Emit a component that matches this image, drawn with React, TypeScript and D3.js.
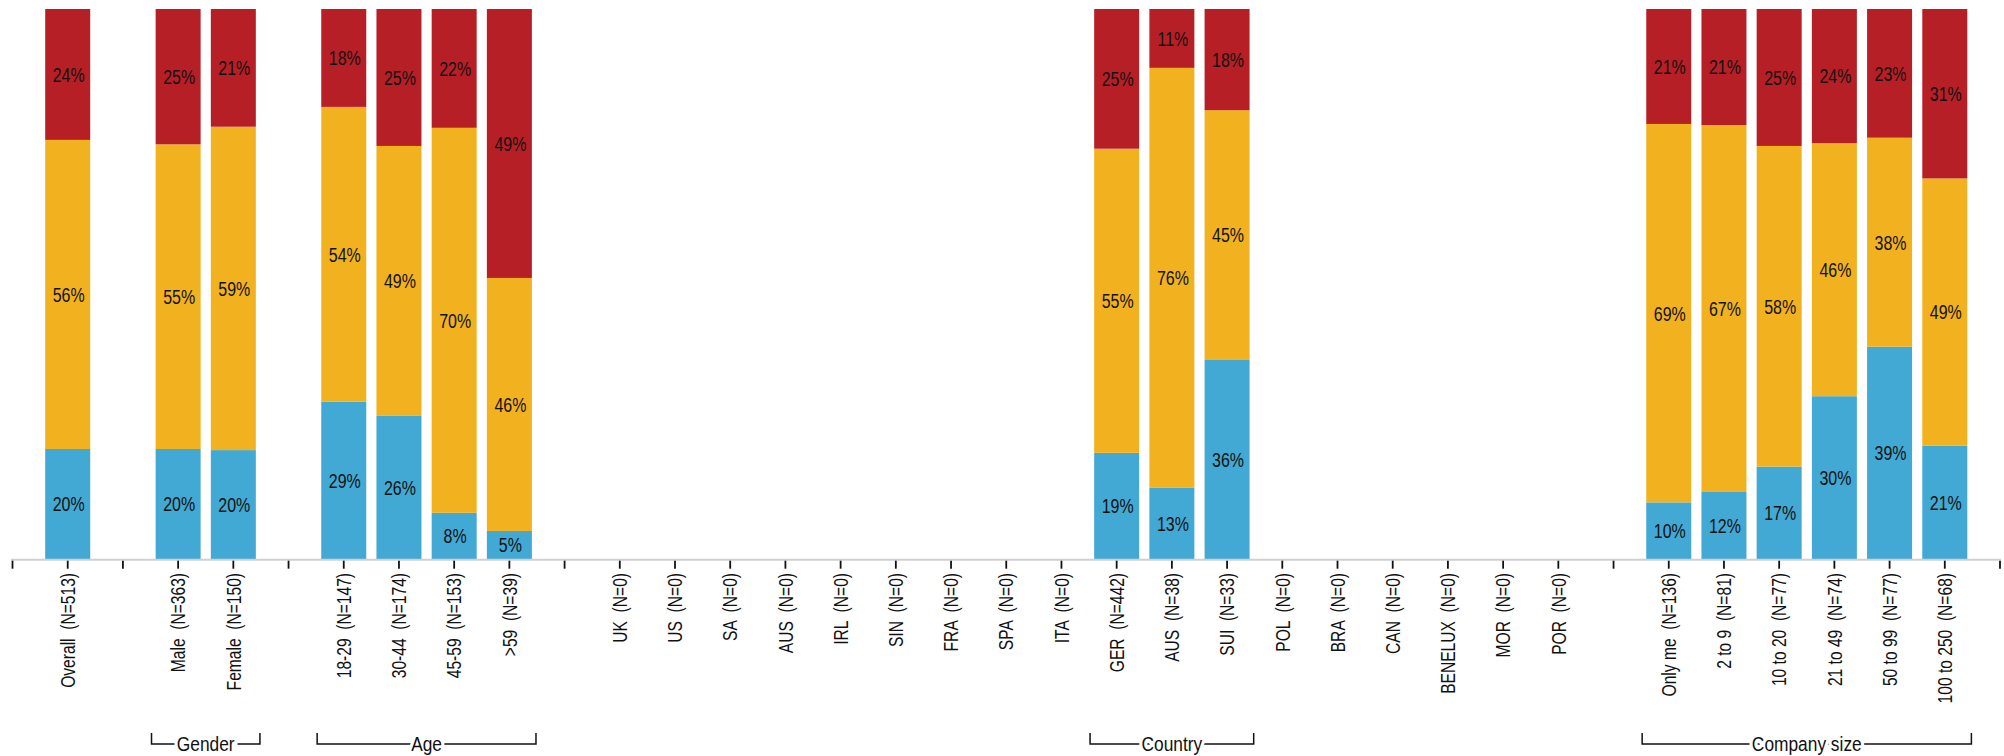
import React from "react";
import * as d3 from "d3";

const categoryLabels = ["Overall", "Male", "Female", "18-29", "30-44", "45-59", ">59", "UK", "US", "SA", "AUS", "IRL", "SIN", "FRA", "SPA", "ITA", "GER", "AUS", "SUI", "POL", "BRA", "CAN", "BENELUX", "MOR", "POR", "Only me", "2 to 9", "10 to 20", "21 to 49", "50 to 99", "100 to 250"];
const sampleSizes = [513, 363, 150, 147, 174, 153, 39, 0, 0, 0, 0, 0, 0, 0, 0, 0, 442, 38, 33, 0, 0, 0, 0, 0, 0, 136, 81, 77, 74, 77, 68];
const categoryGroups = ["Overall", "Gender", "Gender", "Age", "Age", "Age", "Age",
  "Country", "Country", "Country", "Country", "Country", "Country", "Country", "Country", "Country",
  "Country", "Country", "Country", "Country", "Country", "Country", "Country", "Country", "Country",
  "Company size", "Company size", "Company size", "Company size", "Company size", "Company size"];

const blueValues: (number | null)[] = [20.0, 20.0, 19.8, 28.6, 26.1, 8.4, 5.1, null, null, null, null, null, null, null, null, null, 19.3, 13.0, 36.3, null, null, null, null, null, null, 10.3, 12.3, 16.8, 29.6, 38.6, 20.6];
const yellowValues: (number | null)[] = [56.2, 55.4, 58.8, 53.6, 49.0, 70.0, 46.0, null, null, null, null, null, null, null, null, null, 55.3, 76.3, 45.3, null, null, null, null, null, null, 68.8, 66.6, 58.3, 46.0, 38.0, 48.6];
const redValues: (number | null)[] = [23.8, 24.6, 21.4, 17.8, 24.9, 21.6, 48.9, null, null, null, null, null, null, null, null, null, 25.4, 10.7, 18.4, null, null, null, null, null, null, 20.9, 21.1, 24.9, 24.4, 23.4, 30.8];

const bracketLabels = ["Gender", "Age", "Country", "Company size"];
const bracketFirst = [1, 3, 16, 25];
const bracketLast = [2, 6, 18, 30];

const COLORS = ["#41A9D4", "#F2B21F", "#B71F26"];
const FONT = "'Liberation Sans', Arial, sans-serif";

export default function App() {
  const W = 2004, H = 756;
  const slots: string[] = [];
  let sepCount = 0;
  categoryLabels.forEach((_, i) => {
    if (i === 0 || categoryGroups[i] !== categoryGroups[i - 1]) slots.push(`sep${sepCount++}`);
    slots.push(`cat${i}`);
  });
  slots.push(`sep${sepCount++}`);

  const x = d3.scalePoint<string>().domain(slots).range([12.5, 2000]);
  const step = x.step();
  const y = d3.scaleLinear().domain([0, 100]).range([559, 9]);
  const barW = 45;
  const axisY = 559.7;

  const stacks = categoryLabels.map((_, i) => {
    const vals = [blueValues[i], yellowValues[i], redValues[i]];
    if (vals.some((v) => v == null)) return null;
    let acc = 0;
    return vals.map((v, k) => {
      const y0 = acc;
      acc += v as number;
      return { k, v: v as number, y0, y1: acc };
    });
  });

  return (
    <svg width={W} height={H} style={{ position: "absolute", left: 0, top: 0, background: "#fff" }}
      fontFamily={FONT}>
      {stacks.map((st, i) => {
        if (!st) return null;
        const cx = x(`cat${i}`)!;
        return (
          <g key={i}>
            {st.map((s) => (
              <rect key={s.k} x={cx - barW / 2} width={barW} y={y(s.y1)} height={y(s.y0) - y(s.y1)} fill={COLORS[s.k]} />
            ))}
            {st.map((s) => (
              <text key={`t${s.k}`} transform={`translate(${cx + 1},${(y(s.y0) + y(s.y1)) / 2}) scale(0.78,1)`}
                dy="0.36em" textAnchor="middle" fontSize={20.5} fill="#111">{Math.round(s.v)}%</text>
            ))}
          </g>
        );
      })}
      <line x1={11} x2={2001} y1={axisY} y2={axisY} stroke="#d0d0d0" strokeWidth={2} />
      {slots.map((s) => (
        <line key={s} x1={x(s)!} x2={x(s)!} y1={axisY + 1} y2={568.7} stroke="#111" strokeWidth={1.8} />
      ))}
      {categoryLabels.map((lab, i) => {
        const cx = x(`cat${i}`)!;
        return (
          <text key={i} transform={`translate(${cx},573) rotate(-90) scale(0.78,1)`} textAnchor="end" dy="0.36em"
            fontSize={20} fill="#111" style={{ whiteSpace: "pre" }}>
            {`${lab}  (N=${sampleSizes[i]})`}
          </text>
        );
      })}
      {bracketLabels.map((lab, g) => {
        const x0 = x(`cat${bracketFirst[g]}`)! - step / 2 + 1;
        const x1 = x(`cat${bracketLast[g]}`)! + step / 2 - 1;
        const ly = 744;
        return (
          <g key={lab}>
            <path d={`M${x0},${ly - 11}V${ly}H${x1}V${ly - 11}`} fill="none" stroke="#111" strokeWidth={1.5} />
            <text transform={`translate(${(x0 + x1) / 2},${ly}) scale(0.89,1)`} dy="0.36em" textAnchor="middle" fontSize={19.5} fill="#111"
              stroke="#fff" strokeWidth={7} style={{ paintOrder: "stroke" }}>{lab}</text>
          </g>
        );
      })}
    </svg>
  );
}
